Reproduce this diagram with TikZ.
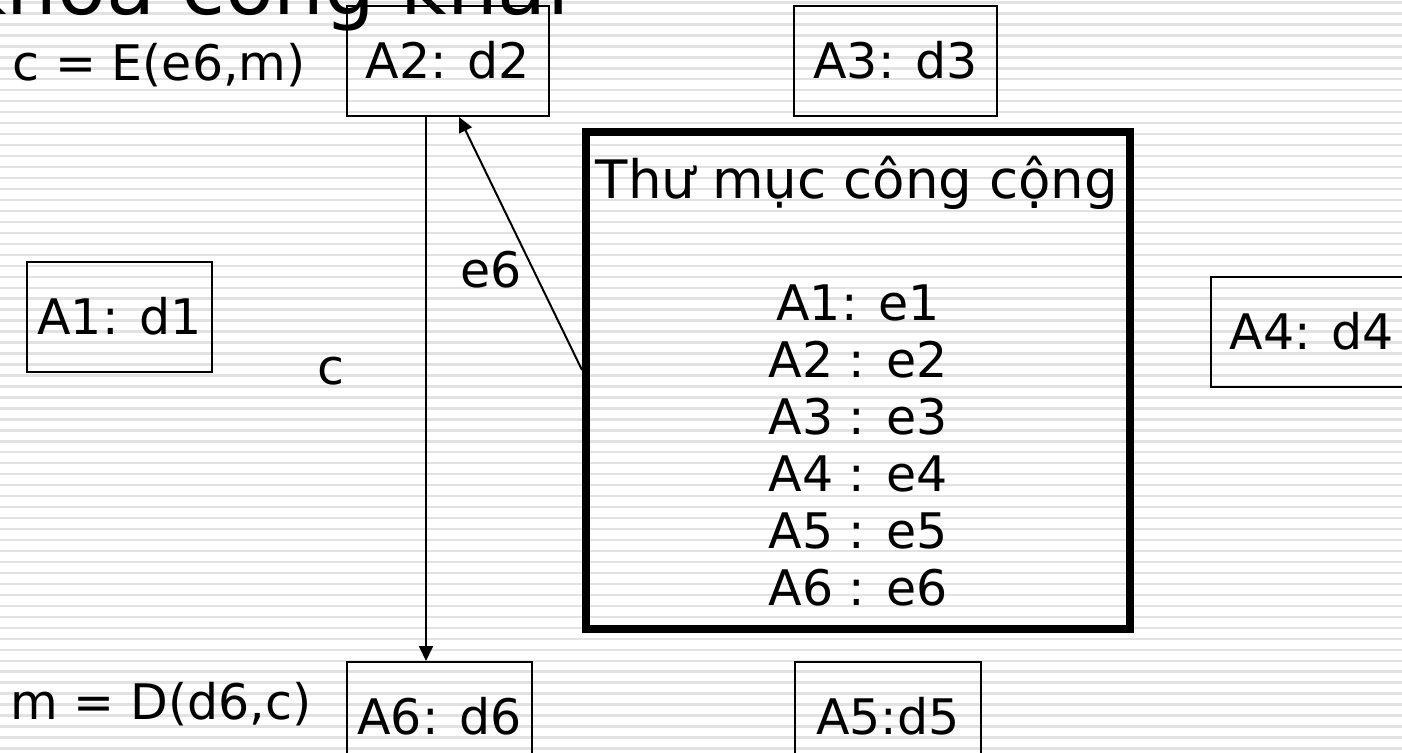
\documentclass[tikz,border=0pt]{standalone}
\usepackage{fontspec}
\setmainfont{DejaVu Sans}
\usetikzlibrary{arrows.meta,calc}
\definecolor{stripegray}{HTML}{E2E2E2}
\newcommand\bodysize{\fontsize{49pt}{58pt}\selectfont}
\newcommand\headsize{\fontsize{53pt}{63pt}\selectfont}
\newcommand\titlesize{\fontsize{80pt}{96pt}\selectfont}
\begin{document}
\begin{tikzpicture}[x=1pt,y=-1pt,
  every node/.style={inner sep=0pt},
  keybox/.style={draw, line width=2pt, minimum height=110pt,
    font=\bodysize, text height=35.7pt, text depth=0pt},
  dirbox/.style={draw, line width=8pt},
  label/.style={font=\bodysize},
  conn/.style={line width=2pt, -{Triangle[length=15pt,width=14pt]}}]
% page frame
\useasboundingbox (0,0) rectangle (1402,752);
\clip (0,0) rectangle (1402,752);
% striped background
\fill[white] (0,0) rectangle (1402,752);
\foreach \i in {0,...,68}
  \fill[stripegray] (0,{1.3+10.97*\i}) rectangle (1402,{3.7+10.97*\i});
% heading, mostly above the page edge
\node[anchor=base west, font=\titlesize] (title) at (-39.6,15) {khoá công khai};
% participants with their private keys
\node[keybox, minimum width=202pt] (A2) at (448,61) {A2: d2};
\node[keybox, minimum width=203pt] (A3) at (895.5,61) {A3: d3};
\node[keybox, minimum width=185pt] (A1) at (119.5,317) {A1: d1};
\node[keybox, minimum width=202pt] (A4) at (1312,332) {A4: d4};
\node[keybox, minimum width=186pt] (A5) at (888,717) {A5:d5};
\node[keybox, minimum width=185pt] (A6) at (439.5,717) {A6: d6};
% public directory
\node[dirbox, minimum width=544pt, minimum height=497pt] (dir) at (858,380.5) {};
\node[anchor=base, font=\headsize] (dirhead) at (857,198) {Thư mục công cộng};
\node[anchor=base, label] (k1) at (858,320) {A1: e1};
\node[anchor=base, label] (k2) at (858,377) {A2 : e2};
\node[anchor=base, label] (k3) at (858,434) {A3 : e3};
\node[anchor=base, label] (k4) at (858,491) {A4 : e4};
\node[anchor=base, label] (k5) at (858,548) {A5 : e5};
\node[anchor=base, label] (k6) at (858,605) {A6 : e6};
% formulas and arrow labels
\node[anchor=base west, label] (enc) at (12.5,80) {c = E(e6,m)};
\node[anchor=base west, label] (dec) at (10.5,719) {m = D(d6,c)};
\node[anchor=base, label] (clab) at (331,384) {c};
\node[anchor=base west, label] (elab) at (460,287) {e6};
% connectors
\coordinate (sendtop) at ($(A2.south)+(-22,0)$);
\draw[conn] (sendtop) -- (sendtop |- A6.north);
\coordinate (keytip) at ($(A2.south)+(11,0)$);
\coordinate (keyfoot) at (dir.west |- 0,370);
\draw[conn] (keyfoot) -- (keytip);
\end{tikzpicture}
\end{document}
